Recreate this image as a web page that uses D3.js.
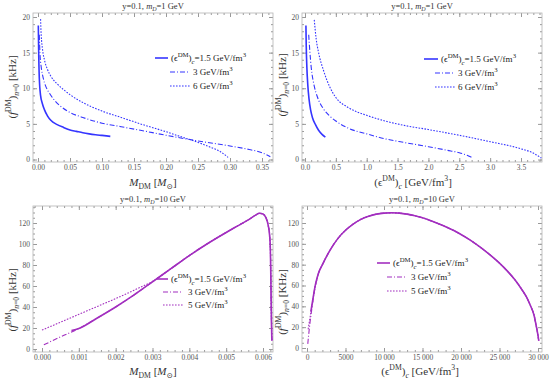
<!DOCTYPE html>
<meta charset="utf-8">
<style>
body { margin:0; background:#fff; }
text { font-family: "Liberation Serif", "DejaVu Serif", serif; }
.tick text { font-size:7.5px; fill:#555; }
.tick line { stroke:#999; }
</style>
<body>
<script src="https://d3js.org/d3.v7.min.js"></script>
<script>

var width = 550, height = 384;

// top left: M_DM [Msun] -> f [kHz], y=0.1, mD=1 GeV
var tl15 = [[0.0005,18.8],[0.001,15.5],[0.002,11.5],[0.004,9],[0.007,7.8],[0.01,7],[0.015,6.1],[0.02,5.5],[0.03,4.9],[0.04,4.5],[0.05,4.15],[0.06,3.95],[0.07,3.75],[0.08,3.6],[0.09,3.48],[0.1,3.38],[0.113,3.25]];
var tl3 = [[0.002,17.5],[0.003,15],[0.005,13],[0.008,11.5],[0.012,10.3],[0.018,9.3],[0.025,8.4],[0.035,7.5],[0.05,6.6],[0.07,5.9],[0.1,5.1],[0.13,4.6],[0.16,4.1],[0.2,3.4],[0.25,2.6],[0.3,1.9],[0.33,1.4],[0.35,0.95],[0.363,0.4]];
var tl6 = [[0.004,19.7],[0.005,17.5],[0.007,15.5],[0.01,14],[0.015,12.6],[0.02,11.7],[0.03,10.6],[0.04,9.8],[0.05,9.1],[0.07,8],[0.1,6.8],[0.13,5.9],[0.16,5],[0.2,3.9],[0.22,3.3],[0.25,2.4],[0.27,1.7],[0.285,1.1],[0.297,0.3]];

// top right: eps_c [GeV/fm3] -> f [kHz]
var tr15 = [[0.015,18.8],[0.02,16],[0.03,13],[0.045,10.5],[0.065,8.5],[0.09,7],[0.12,5.9],[0.17,4.9],[0.22,4.1],[0.28,3.5],[0.33,3.15]];
var tr3 = [[0.06,17.5],[0.08,15],[0.1,13],[0.15,10.3],[0.2,8.8],[0.3,7.1],[0.4,6.1],[0.5,5.4],[0.7,4.4],[1.0,3.6],[1.3,2.9],[1.6,2.4],[2.0,1.8],[2.3,1.3],[2.5,0.95],[2.65,0.5],[2.72,0.2]];
var tr6 = [[0.15,19.6],[0.18,17],[0.22,15],[0.3,12.5],[0.4,10.2],[0.5,8.7],[0.7,7.3],[1.0,6.2],[1.3,5.4],[1.6,4.8],[2.0,4.2],[2.5,3.4],[3.0,2.5],[3.5,1.5],[3.7,0.9],[3.83,0.2]];

// bottom left: M_DM -> f, mD=10 GeV
var bl15Head = [[0.0008,17.5],[0.001,19.5],[0.0015,29.5],[0.002,40],[0.0025,51.5],[0.003,64]];
var bl3Head = [[0.00005,4],[0.0005,11.5],[0.001,19.5],[0.0015,29.5],[0.002,40],[0.0025,51.5],[0.003,64]];
var bl5Head = [[0,18],[0.0005,25.5],[0.001,33],[0.0015,40.5],[0.002,48],[0.0025,56],[0.003,64.5]];
var blTail = [[0.0035,76.5],[0.004,89],[0.0045,100.5],[0.005,111],[0.0053,117],[0.0056,123],[0.0058,127.5],[0.0059,129.3],[0.006,128.5],[0.00608,125],[0.00614,118],[0.00618,108],[0.0062,95],[0.00621,75],[0.00622,50],[0.00623,25],[0.00624,8]];

// bottom right: eps_c -> f
var br15Head = [[500,35],[700,44],[900,53],[1100,61],[1300,67]];
var br3Head = [[100,4],[250,15],[400,25],[600,36],[800,47],[1000,57],[1250,65]];
var br5Head = [[150,18],[300,25],[500,34],[700,43],[900,52],[1100,60],[1300,66]];
var brTail = [[1500,72],[2000,80],[3000,94],[4000,105],[5000,113],[6000,119],[7000,123.5],[8000,126.5],[9000,128.5],[10000,129.5],[11000,129.8],[12000,129.5],[13000,128.5],[14000,127],[15000,125],[16000,122.5],[17000,119.5],[18000,116.5],[19000,113],[20000,109],[21000,104.5],[22000,99.5],[23000,94],[24000,88],[25000,81.5],[26000,74],[27000,65.5],[28000,55],[28500,49],[29000,41],[29500,31],[29800,20],[30000,12],[30100,7]];

// tick values
var xTicksTL = [0,0.05,0.1,0.15,0.2,0.25,0.3,0.35];
var xTicksTR = [0,0.5,1,1.5,2,2.5,3,3.5];
var yTicksTop = [0,5,10,15,20];
var xTicksBL = [0,0.001,0.002,0.003,0.004,0.005,0.006];
var xTicksBR = [0,5000,10000,15000,20000,25000,30000];
var yTicksBot = [0,20,40,60,80,100,120];

var legendTop = ["1.5", "3", "6"];
var legendBot = ["1.5", "3", "5"];

var blue = "#3535ff", purple = "#a22fbf";
var dashes = [null, "5,2,1,2", "1.6,1.4"];
var widths = [1.6, 1.1, 1.1];

var svg = d3.select("body").append("svg")
    .attr("width", width)
    .attr("height", height);

// text with super/subscripts
function rich(sel, parts, size, small) {
  small = small || 0.7;
  var prev = 0;
  parts.forEach(function(p) {
    var shift = p.sup ? -0.42 * size : p.sub ? 0.28 * size : 0;
    var ts = sel.append("tspan").text(p.t)
      .attr("dy", shift - prev)
      .style("font-size", (p.sup || p.sub ? size * small : size) + "px");
    if (p.it) ts.style("font-style", "italic");
    prev = shift;
  });
}

var yLab = function(unit) {
  return [{t:"("},{t:"f",it:true},{t:"DM",sup:true},{t:")"},{t:"n",sub:true,it:true},{t:"=0",sub:true},{t:" [" + unit + "]"}];
};
var massLab = [{t:"M",it:true},{t:"DM",sub:true},{t:" ["},{t:"M",it:true},{t:"\u2299",sub:true},{t:"]"}];
var epsLab = [{t:"("},{t:"\u03f5"},{t:"DM",sup:true},{t:")"},{t:"c",sub:true,it:true},{t:" [GeV/fm"},{t:"3",sup:true},{t:"]"}];

var spaced = d3.formatLocale({decimal:".", thousands:" ", grouping:[3], currency:["",""]}).format(",");

var clipId = 0;
function panel(o) {
  var g = svg.append("g");
  var L = o.frame[0], R = o.frame[1], T = o.frame[2], B = o.frame[3];
  var x = d3.scaleLinear().domain(o.xRef).range(o.xPx);
  var y = d3.scaleLinear().domain(o.yRef).range(o.yPx);
  var inX = function(v) { var p = x(v); return p >= L - 0.5 && p <= R + 0.5; };
  var inY = function(v) { var p = y(v); return p >= T - 0.5 && p <= B + 0.5; };
  var xMinor = d3.range(-20, 200).map(function(i) { return i * o.xMinorStep; }).filter(inX);
  var yMinor = d3.range(-20, 200).map(function(i) { return i * o.yMinorStep; }).filter(inY);

  function ax(axis, tr, vals, size, fmt) {
    var a = g.append("g").attr("transform", tr)
      .call(axis.tickValues(vals).tickSize(size).tickPadding(3).tickFormat(fmt));
    a.select(".domain").remove();
    return a;
  }
  var none = function() { return ""; };
  ax(d3.axisBottom(x), "translate(0," + B + ")", xMinor, -2, none);
  ax(d3.axisTop(x), "translate(0," + T + ")", xMinor, -2, none);
  ax(d3.axisLeft(y), "translate(" + L + ",0)", yMinor, -2, none);
  ax(d3.axisRight(y), "translate(" + R + ",0)", yMinor, -2, none);
  ax(d3.axisBottom(x), "translate(0," + B + ")", o.xTicks, -4, o.xFmt);
  ax(d3.axisTop(x), "translate(0," + T + ")", o.xTicks, -4, none);
  ax(d3.axisLeft(y), "translate(" + L + ",0)", o.yTicks, -4, d3.format("d"));
  ax(d3.axisRight(y), "translate(" + R + ",0)", o.yTicks, -4, none);

  g.append("rect")
    .attr("x", L).attr("y", T).attr("width", R - L).attr("height", B - T)
    .attr("fill", "none").attr("stroke", "#b5b5b5").attr("stroke-width", 0.8);

  var id = "clip" + (clipId++);
  g.append("clipPath").attr("id", id).append("rect")
    .attr("x", L).attr("y", T).attr("width", R - L).attr("height", B - T);

  var line = d3.line()
    .x(function(d) { return x(d[0]); })
    .y(function(d) { return y(d[1]); })
    .curve(d3.curveMonotoneX);

  o.series.forEach(function(s, i) {
    g.append("path")
      .attr("clip-path", "url(#" + id + ")")
      .attr("d", line(s))
      .attr("fill", "none")
      .attr("stroke", o.color)
      .attr("stroke-width", widths[i])
      .attr("stroke-dasharray", dashes[i]);
  });

  // title
  var cx = (L + R) / 2;
  var t = g.append("text").attr("x", cx).attr("y", T - 4)
    .attr("text-anchor", "middle").attr("fill", "#333");
  rich(t, [{t:"y=0.1, "},{t:"m",it:true},{t:"D",sub:true,it:true},{t:"=" + o.mD + " GeV"}], 8.5);

  // axis labels
  var xl = g.append("text").attr("x", o.xLabX).attr("y", o.xLabY)
    .attr("text-anchor", "middle").attr("fill", "#333");
  rich(xl, o.xLab, 11);
  var yl = g.append("text")
    .attr("transform", "translate(" + o.yLabX + "," + o.yLabY + ") rotate(-90)")
    .attr("text-anchor", "middle").attr("fill", "#333");
  rich(yl, o.yLab, 11);

  // legend
  o.legend.rows.forEach(function(r, i) {
    var ly = o.legend.y[i];
    g.append("line")
      .attr("x1", r[0]).attr("x2", r[1]).attr("y1", ly).attr("y2", ly)
      .attr("stroke", o.color)
      .attr("stroke-width", widths[i])
      .attr("stroke-dasharray", dashes[i]);
    var lt = g.append("text").attr("x", r[2]).attr("y", ly + 3).attr("fill", "#222");
    var parts = i === 0
      ? [{t:"("},{t:"\u03f5"},{t:"DM",sup:true},{t:")"},{t:"c",sub:true,it:true},{t:"=" + o.legend.labels[i] + " GeV/fm"},{t:"3",sup:true}]
      : [{t:o.legend.labels[i] + " GeV/fm"},{t:"3",sup:true}];
    rich(lt, parts, 9, 0.75);
  });
}

panel({
  frame:[33,273,13,162], xRef:[0,0.35], xPx:[38,262], yRef:[0,20], yPx:[159.5,17],
  xTicks:xTicksTL, yTicks:yTicksTop, xMinorStep:0.01, yMinorStep:1, xFmt:d3.format(".2f"),
  series:[tl15, tl3, tl6], color:blue, mD:"1",
  xLab:massLab, xLabX:153, xLabY:186, yLab:yLab("kHz"), yLabX:16, yLabY:87,
  legend:{y:[58,72,86], labels:legendTop, rows:[[155,168,171],[170,190,193],[170,190,193]]}
});

panel({
  frame:[302,542,13,162], xRef:[0,3.5], xPx:[305,521], yRef:[0,20], yPx:[159.5,17],
  xTicks:xTicksTR, yTicks:yTicksTop, xMinorStep:0.1, yMinorStep:1, xFmt:d3.format(".1f"),
  series:[tr15, tr3, tr6], color:blue, mD:"1",
  xLab:epsLab, xLabX:413, xLabY:186, yLab:yLab("kHz"), yLabX:286, yLabY:85,
  legend:{y:[59,73,87], labels:legendTop, rows:[[424,438,441],[435,455,458],[435,455,458]]}
});

panel({
  frame:[33,273,206,352], xRef:[0,0.006], xPx:[42,263], yRef:[0,120], yPx:[349,223],
  xTicks:xTicksBL, yTicks:yTicksBot, xMinorStep:0.0002, yMinorStep:5, xFmt:d3.format(".3f"),
  series:[bl15Head.concat(blTail), bl3Head.concat(blTail), bl5Head.concat(blTail)], color:purple, mD:"10",
  xLab:massLab, xLabX:153, xLabY:375, yLab:yLab("kHz"), yLabX:16, yLabY:300,
  legend:{y:[279,292,305], labels:legendBot, rows:[[157,168,171],[163,183,188],[163,183,188]]}
});

panel({
  frame:[302,542,206,352], xRef:[0,30000], xPx:[307,538], yRef:[0,120], yPx:[348,223],
  xTicks:xTicksBR, yTicks:yTicksBot, xMinorStep:1000, yMinorStep:5,
  xFmt:function(v) { return v >= 10000 ? spaced(v) : String(v); },
  series:[br15Head.concat(brTail), br3Head.concat(brTail), br5Head.concat(brTail)], color:purple, mD:"10",
  xLab:epsLab, xLabX:420, xLabY:375, yLab:yLab("KHz"), yLabX:286, yLabY:302,
  legend:{y:[263,277,291], labels:legendBot, rows:[[377,390,393],[387,407,411],[387,407,411]]}
});

</script>
